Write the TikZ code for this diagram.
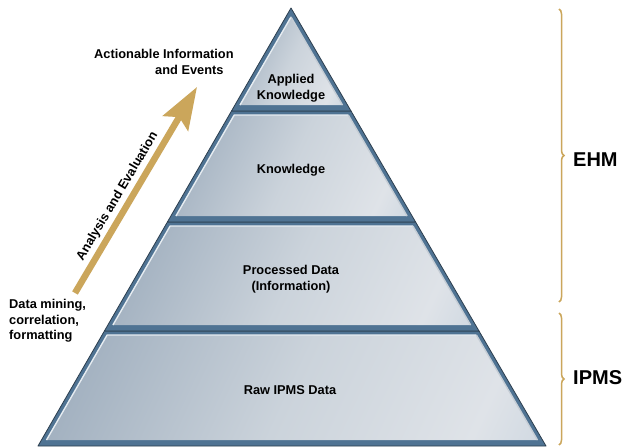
\documentclass[tikz,border=0pt]{standalone}
\usepackage{fontspec}
\setmainfont{Liberation Sans}
\usetikzlibrary{arrows.meta,decorations.pathreplacing,calc}
\definecolor{gold}{HTML}{CBA65B}
\definecolor{pyrA}{HTML}{8195AA}
\definecolor{pyrB}{HTML}{CBD3DB}
\definecolor{pyrC}{HTML}{DFE3E8}
\definecolor{pyrD}{HTML}{B5C6D6}
\definecolor{band}{HTML}{4F7393}
\definecolor{edgec}{HTML}{2C3E4E}
\definecolor{bevL}{HTML}{E6ECF1}
\definecolor{bevR}{HTML}{C5CDD5}
\pgfdeclarehorizontalshading{pyr}{100bp}{color(0bp)=(pyrA); color(50bp)=(pyrB); color(75bp)=(pyrC); color(100bp)=(pyrD)}
\begin{document}
\begin{tikzpicture}[x=1pt,y=-1pt,
  lbl/.style={font=\bfseries\fontsize{12.8}{15.5}\selectfont, align=center, inner sep=0pt, text=black},
  big/.style={font=\bfseries\fontsize{20}{24}\selectfont, inner sep=0pt, anchor=west, text=black},
  layerbase/.style={fill=band},
  layershade/.style={shading=pyr, shading angle=-25},
  bevelleft/.style={draw=bevL, line width=1.4pt, line join=round},
  bevelright/.style={draw=bevR, line width=1.4pt},
  outline/.style={draw=edgec, line width=0.8pt, line join=round},
  bracestyle/.style={draw=gold, line width=1.5pt, decorate, decoration={brace, amplitude=5pt}},
  goldarrow/.style={draw=gold, line width=6.5pt, -{Stealth[length=42pt, width=29pt, inset=7pt]}}]
\useasboundingbox[fill=white] (0,0) rectangle (629,447);

% layer 4 (Raw IPMS Data)
\fill[layerbase] (104.4,331) -- (479,331) -- (546,446) -- (38,446) -- cycle;
\shade[layershade] (107.1,335) -- (476.4,335) -- (537.5,440) -- (46.5,440) -- cycle;
\draw[bevelleft] (46.5,440) -- (107.1,335) -- (476.4,335);
\draw[bevelright] (476.4,335) -- (537.5,440);
\draw[outline] (104.4,331) -- (479,331) -- (546,446) -- (38,446) -- cycle;

% layer 3 (Processed Data)
\fill[layerbase] (167.4,222) -- (415.6,222) -- (479,331) -- (104.4,331) -- cycle;
\shade[layershade] (170.1,226) -- (412.9,226) -- (470.6,325) -- (112.9,325) -- cycle;
\draw[bevelleft] (112.9,325) -- (170.1,226) -- (412.9,226);
\draw[bevelright] (412.9,226) -- (470.6,325);
\draw[outline] (167.4,222) -- (415.6,222) -- (479,331) -- (104.4,331) -- cycle;

% layer 2 (Knowledge)
\fill[layerbase] (231.5,111) -- (351,111) -- (415.6,222) -- (167.4,222) -- cycle;
\shade[layershade] (234.2,115) -- (348.3,115) -- (407.1,216) -- (175.9,216) -- cycle;
\draw[bevelleft] (175.9,216) -- (234.2,115) -- (348.3,115);
\draw[bevelright] (348.3,115) -- (407.1,216);
\draw[outline] (231.5,111) -- (351,111) -- (415.6,222) -- (167.4,222) -- cycle;

% layer 1 (Applied Knowledge)
\fill[layerbase] (291,8) -- (351,111) -- (231.5,111) -- cycle;
\shade[layershade] (291,17) -- (342.5,105) -- (240,105) -- cycle;
\draw[bevelleft] (240,105) -- (291,17);
\draw[bevelright] (291,17) -- (342.5,105);
\draw[outline] (291,8) -- (351,111) -- (231.5,111) -- cycle;

% layer labels
\node[lbl] (apl) at (291,88) {Applied\\Knowledge};
\node[lbl] (know) at (291,170) {Knowledge};
\node[lbl] (proc) at (291,279) {Processed Data\\(Information)};
\node[lbl] (raw) at (290,390) {Raw IPMS Data};

% left labels
\node[lbl, align=left, anchor=west] (dm) at (9,321) {Data mining,\\correlation,\\formatting};
\node[lbl, align=left, anchor=west] (act) at (94,62) {Actionable Information\\\hspace*{61pt}and Events};

% arrow
\coordinate (arrS) at (75,293);
\coordinate (arrE) at (197,87);
\draw[goldarrow] (arrS) -- (arrE);
\node[lbl, rotate=59.4] (ana) at (117.5,196.5) {Analysis and Evaluation};

% braces
\coordinate (b1t) at (559,9);
\coordinate (b1b) at (559,302);
\coordinate (b2t) at (559,313);
\coordinate (b2b) at (559,445);
\draw[bracestyle] (b1t) -- (b1b);
\draw[bracestyle] (b2t) -- (b2b);
\node[big] (ehm) at (573,160) {EHM};
\node[big] (ipms) at (573,378) {IPMS};
\end{tikzpicture}
\end{document}
